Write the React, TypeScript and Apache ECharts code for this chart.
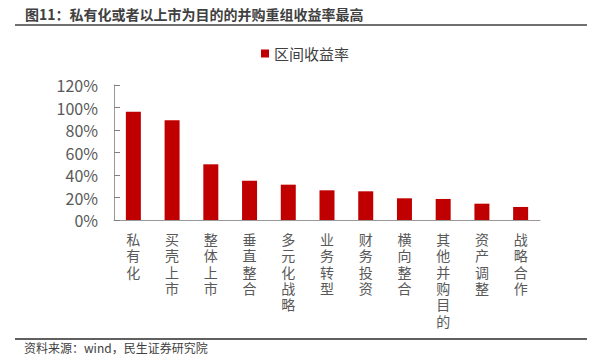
import React, { useEffect, useRef } from "react";
import * as echarts from "echarts";

const titleText = "图11：私有化或者以上市为目的的并购重组收益率最高";
const sourceText = "资料来源：wind，民生证券研究院";
const seriesName = "区间收益率";
const categories = [
  "私有化",
  "买壳上市",
  "整体上市",
  "垂直整合",
  "多元化战略",
  "业务转型",
  "财务投资",
  "横向整合",
  "其他并购目的",
  "资产调整",
  "战略合作",
];
const values = [96.3, 88.6, 49.5, 34.9, 31.4, 26.4, 25.5, 19.3, 18.7, 14.5, 11.6];
const yMin = 0;
const yMax = 120;
const yInterval = 20;

const FONT = '"Noto Sans CJK SC", "Noto Sans", sans-serif';
const LABEL_FONT = '"Liberation Sans", "Noto Sans CJK SC", sans-serif';

export default function App() {
  const ref = useRef<HTMLDivElement>(null);
  useEffect(() => {
    if (!ref.current) return;
    const chart = echarts.init(ref.current, undefined, { renderer: "svg" });
    chart.setOption({
      animation: false,
      backgroundColor: "#ffffff",
      textStyle: { fontFamily: FONT },
      grid: { left: 114, right: 59, top: 85, bottom: 143, containLabel: false },
      legend: {
        data: [seriesName],
        left: 256,
        top: 41,
        icon: "rect",
        itemWidth: 8,
        itemHeight: 8,
        itemGap: 6,
        textStyle: { fontSize: 15, color: "#404040", fontFamily: FONT },
      },
      xAxis: {
        type: "category",
        data: categories,
        axisLine: { lineStyle: { color: "#999999", width: 1 } },
        axisTick: { inside: true, length: 6, lineStyle: { color: "#808080" } },
        axisLabel: {
          interval: 0,
          margin: 12,
          fontSize: 14,
          lineHeight: 16.3,
          color: "#595959",
          fontFamily: LABEL_FONT,
          verticalAlign: "top",
          formatter: (v: string) => v.split("").join("\n"),
        },
      },
      yAxis: {
        type: "value",
        min: yMin,
        max: yMax,
        interval: yInterval,
        axisLine: { show: true, lineStyle: { color: "#999999", width: 1 } },
        axisTick: { show: true, inside: true, length: 6, lineStyle: { color: "#808080" } },
        splitLine: { show: false },
        axisLabel: {
          margin: 16,
          fontSize: 16,
          color: "#595959",
          fontFamily: FONT,
          formatter: "{value}%",
        },
      },
      series: [
        {
          name: seriesName,
          type: "bar",
          data: values,
          barWidth: 15,
          itemStyle: { color: "#C00000" },
        },
      ],
      graphic: [
        {
          type: "text",
          left: 25,
          top: 7,
          style: {
            text: titleText,
            fontSize: 14,
            fontWeight: "bold",
            fill: "#404040",
            fontFamily: FONT,
          },
        },
        {
          type: "line",
          shape: { x1: 15, y1: 25, x2: 587, y2: 25 },
          style: { stroke: "#707070", lineWidth: 2 },
        },
        {
          type: "line",
          shape: { x1: 15, y1: 339, x2: 587, y2: 339 },
          style: { stroke: "#606060", lineWidth: 2 },
        },
        {
          type: "text",
          left: 24,
          top: 341,
          style: {
            text: sourceText,
            fontSize: 12,
            fill: "#404040",
            fontFamily: FONT,
          },
        },
      ],
    });
    return () => chart.dispose();
  }, []);
  return (
    <div
      ref={ref}
      style={{ position: "fixed", left: 0, top: 0, width: 599, height: 363 }}
    />
  );
}
